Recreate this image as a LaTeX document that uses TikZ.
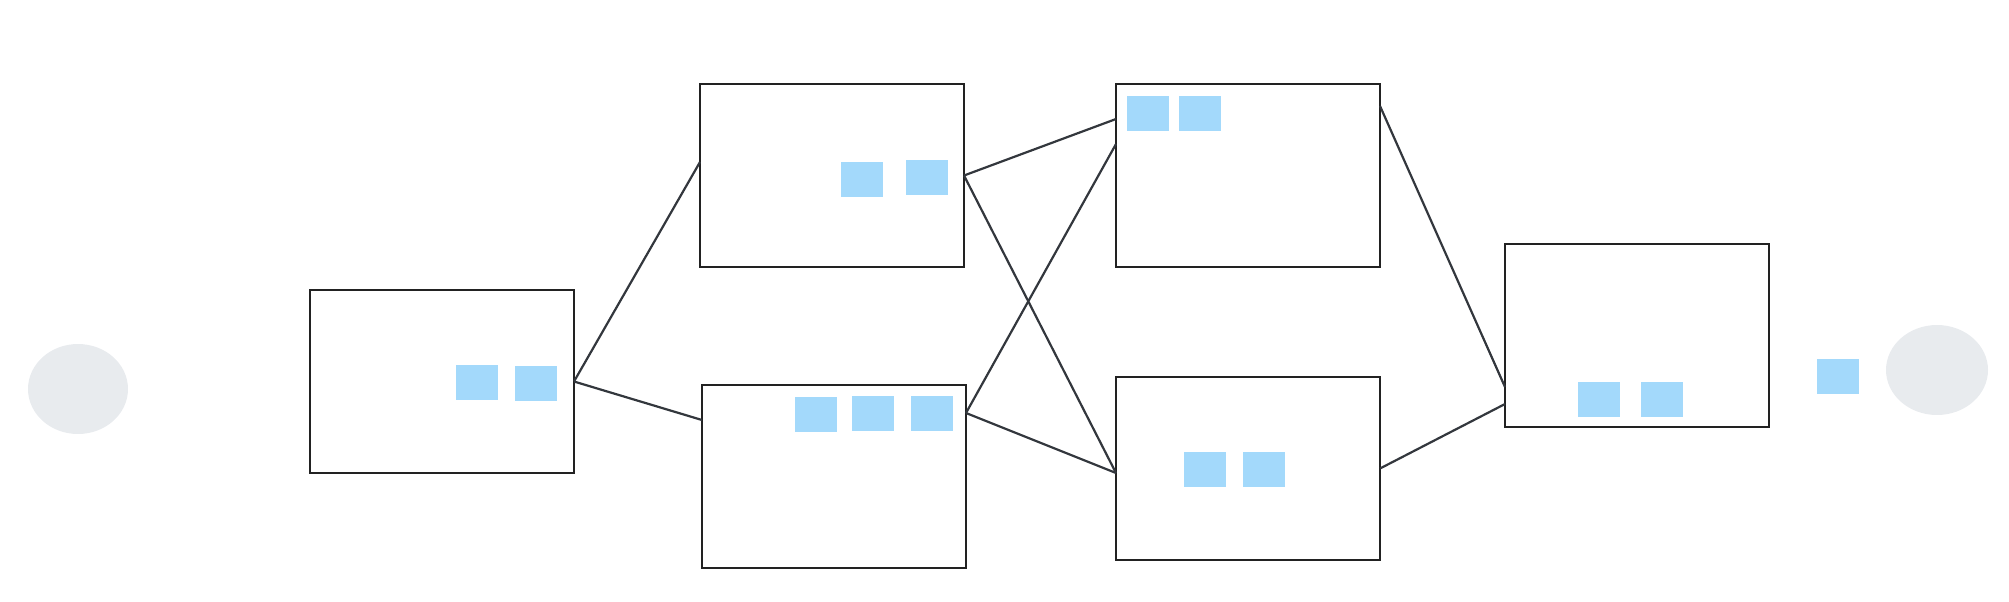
\documentclass[tikz,border=0pt]{standalone}
\usetikzlibrary{shapes.geometric}
\definecolor{boxline}{HTML}{222222}
\definecolor{conn}{HTML}{33373D}
\definecolor{chip}{HTML}{A3D9FB}
\definecolor{ovalgray}{HTML}{E8EBEE}
\tikzset{
  box/.style={draw=boxline, line width=1.2pt, fill=white, rectangle, anchor=north west,
    minimum width=132pt, minimum height=91.5pt, inner sep=0pt, outer sep=0pt},
  chipbox/.style={fill=chip, rectangle, minimum width=21pt, minimum height=17.5pt, inner sep=0pt},
  oval/.style={fill=ovalgray, ellipse, minimum width=50pt, minimum height=45pt, inner sep=0pt},
  link/.style={draw=conn, line width=1.1pt}
}
\begin{document}
\begin{tikzpicture}[x=0.5pt,y=-0.5pt]
\useasboundingbox (0,0) rectangle (2009,601);
% boxes
\node[box] (A) at (310,290) {};
\node[box] (B) at (700,84) {};
\node[box] (C) at (702,385) {};
\node[box] (D) at (1116,84) {};
\node[box] (E) at (1116,377) {};
\node[box] (F) at (1505,244) {};
% connectors
\draw[link] (A.east) -- ([yshift=-39pt]B.north west);
\draw[link] (A.east) -- ([yshift=-17.5pt]C.north west);
\draw[link] (B.east) -- ([yshift=-17.5pt]D.north west);
\draw[link] (B.east) -- ([yshift=-48pt]E.north west);
\draw[link] ([yshift=-14pt]C.north east) -- ([yshift=-30pt]D.north west);
\draw[link] ([yshift=-14pt]C.north east) -- ([yshift=-48pt]E.north west);
\draw[link] ([yshift=-11pt]D.north east) -- ([yshift=-71.5pt]F.north west);
\draw[link] (E.east) -- ([yshift=-80pt]F.north west);
% chips
\node[chipbox] (a1) at (477,382.5) {};
\node[chipbox] (a2) at (536,383.5) {};
\node[chipbox] (b1) at (862,179.5) {};
\node[chipbox] (b2) at (927,177.5) {};
\node[chipbox] (c1) at (816,414.5) {};
\node[chipbox] (c2) at (873,413.4) {};
\node[chipbox] (c3) at (932,413.4) {};
\node[chipbox] (d1) at (1147.5,113.5) {};
\node[chipbox] (d2) at (1200,113.5) {};
\node[chipbox] (e1) at (1205,469.5) {};
\node[chipbox] (e2) at (1264,469.5) {};
\node[chipbox] (f1) at (1599,399.4) {};
\node[chipbox] (f2) at (1661.5,399.4) {};
\node[chipbox] (g1) at (1838,376.4) {};
% ovals
\node[oval] (start) at (78,389) {};
\node[oval, minimum width=51pt] (finish) at (1937,370) {};
\end{tikzpicture}
\end{document}
